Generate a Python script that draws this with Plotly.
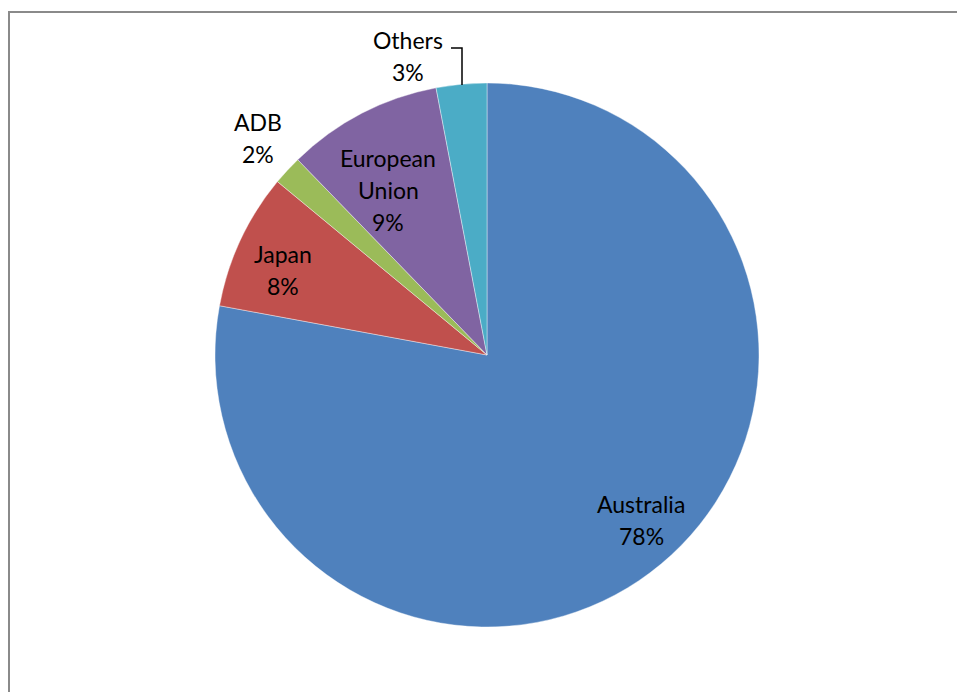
import plotly.graph_objects as go

# Data
categories = ["Australia", "Japan", "ADB", "European Union", "Others"]
values = [77.9, 8.1, 1.75, 9.25, 3.0]
colors = ["#4F81BD", "#C0504D", "#9BBB59", "#8064A2", "#4BACC6"]

W, H = 957, 692
cx, cy, r = 487, 355, 272

# label text lines and their centre positions (pixels)
label_lines = {
    "Australia": ["Australia"],
    "Japan": ["Japan"],
    "ADB": ["ADB"],
    "European Union": ["European", "Union"],
    "Others": ["Others"],
}
label_pos = {
    "Australia": (641, 504),
    "Japan": (283, 254),
    "ADB": (258, 122),
    "European Union": (388, 158),
    "Others": (408, 40),
}
line_gap = 32

def px(x):
    return x / W

def py(y):
    return 1 - y / H

fig = go.Figure(go.Pie(
    labels=categories,
    values=values,
    marker=dict(colors=colors, line=dict(color="white", width=0.4)),
    sort=False,
    direction="clockwise",
    rotation=0,
    textinfo="none",
    hoverinfo="label+percent",
    showlegend=False,
    domain=dict(x=[px(cx - r), px(cx + r)], y=[py(cy + r), py(cy - r)]),
))

total = sum(values)
annotations = []
for cat, v in zip(categories, values):
    lines = label_lines[cat] + [f"{round(100 * v / total):.0f}%"]
    x0, y0 = label_pos[cat]
    for i, t in enumerate(lines):
        annotations.append(dict(
            x=px(x0), y=py(y0 + i * line_gap), xref="paper", yref="paper",
            text=t, showarrow=False, xanchor="center", yanchor="middle",
            font=dict(family="Lato, Open Sans, sans-serif", size=23, color="#000000"),
        ))

shapes = [
    dict(type="rect", xref="paper", yref="paper",
         x0=px(9), x1=px(1100), y0=py(12), y1=py(800),
         line=dict(color="#8a8a8a", width=2), fillcolor="rgba(0,0,0,0)"),
    dict(type="path", xref="paper", yref="paper",
         path=f"M {px(451)},{py(48)} L {px(462)},{py(48)} L {px(462)},{py(85)}",
         line=dict(color="#000000", width=1.5)),
]

fig.update_layout(
    width=W, height=H,
    margin=dict(l=0, r=0, t=0, b=0),
    paper_bgcolor="white", plot_bgcolor="white",
    annotations=annotations, shapes=shapes,
)

fig.write_html("out.html")
